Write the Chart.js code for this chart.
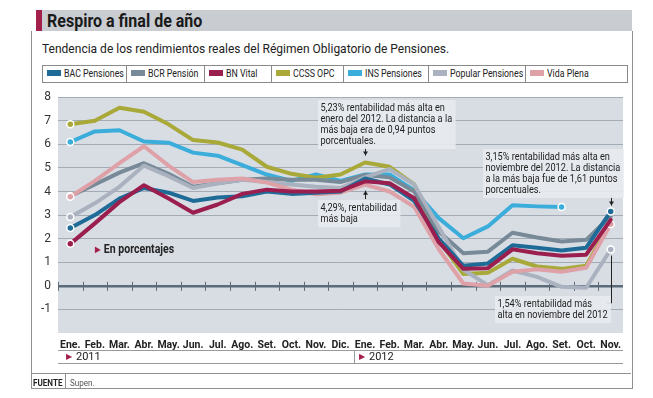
<!DOCTYPE html>
<html>
<head>
<meta charset="utf-8">
<script src="https://cdn.jsdelivr.net/npm/chart.js@4.4.0/dist/chart.umd.min.js"></script>
<style>
  body { margin: 0; width: 653px; height: 398px; background: #fff; position: relative; overflow: hidden;
         font-family: "Roboto", "Liberation Sans", sans-serif; color: #222; }
  .abs { position: absolute; white-space: nowrap; }
  #bar { left: 36px; top: 10px; width: 596px; height: 21px; background: #c9cdd2; }
  #mark { left: 36px; top: 10px; width: 6px; height: 21px; background: #a3204a; }
  #title { left: 47px; top: 10px; line-height: 21px; font-size: 18px; font-weight: bold; color: #1a1a1a; transform: scaleX(0.89); transform-origin: 0 0; }
  #box { left: 31px; top: 31px; width: 600px; height: 357px; border: 1px solid #8f8f8f; border-top: none; }
  #sub { left: 42px; top: 40px; font-size: 13.5px; color: #222; transform: scaleX(0.89); transform-origin: 0 0; }
  #legend { left: 42px; top: 65px; width: 584px; height: 16px; border: 1px solid #8a8a8a; display: flex; }
  #legend div { border-right: 1px solid #8a8a8a; font-size: 11px; line-height: 16px; padding-left: 4px; white-space: nowrap; overflow: hidden; }
  #legend div:last-child { border-right: none; }
  #legend span.sw { display: inline-block; width: 14px; height: 6px; margin-right: 3px; vertical-align: 1px; }
  #legend span.tx { display: inline-block; transform: scaleX(0.8); transform-origin: 0 50%; }
  #wrap { left: 31px; top: 83px; width: 599px; height: 273px; }
  .note { font-size: 11.5px; line-height: 11px; background: rgba(232,235,239,0.9); padding: 2px 4px 3px 3px; color: #222; transform: scaleX(0.8); transform-origin: 0 0; }
  #pct { left: 95px; top: 242px; font-size: 12px; font-weight: bold; transform: scaleX(0.88); transform-origin: 0 0; }
  .tri { color: #a3204a; font-size: 8px; margin-right: 4px; vertical-align: 1px; }
  #years { left: 58px; top: 350px; width: 565px; height: 12px; border-top: 1px solid #9a9a9a; border-bottom: 1px solid #9a9a9a; }
  .yr { font-size: 11px; line-height: 12px; top: 0px; }
  #sep { left: 296px; top: 0px; width: 1px; height: 12px; background: #9a9a9a; }
  #foot { left: 31px; top: 373px; width: 600px; border-top: 1px solid #8f8f8f; height: 15px; }
  #fuente { left: 2px; top: 3px; font-size: 9.5px; font-weight: bold; transform: scaleX(0.85); transform-origin: 0 0; }
  #fsep { left: 34px; top: 0; width: 1px; height: 15px; background: #8f8f8f; }
  #supen { left: 39px; top: 3px; font-size: 9.5px; color: #555; transform: scaleX(0.85); transform-origin: 0 0; }
</style>
</head>
<body>
<div class="abs" id="bar"></div>
<div class="abs" id="mark"></div>
<div class="abs" id="title">Respiro a final de año</div>
<div class="abs" id="box"></div>
<div class="abs" id="sub">Tendencia de los rendimientos reales del Régimen Obligatorio de Pensiones.</div>
<div class="abs" id="legend"></div>
<div class="abs" id="wrap"><canvas id="chart"></canvas></div>

<div class="abs note" style="left:318px; top:100px;">5,23% rentabilidad más alta en<br>enero del 2012. La distancia a la<br>más baja era de 0,94 puntos<br>porcentuales.</div>
<div class="abs note" style="left:318px; top:200px;">4,29%, rentabilidad<br>más baja</div>
<div class="abs note" style="left:483px; top:149px;">3,15% rentabilidad más alta en<br>noviembre del 2012. La distancia<br>a la más baja fue de 1,61 puntos<br>porcentuales.</div>
<div class="abs note" style="left:495px; top:296px;">1,54% rentabilidad más<br>alta en noviembre del 2012</div>
<div class="abs" id="pct"><span class="tri">&#9654;</span>En porcentajes</div>

<div class="abs" id="years">
  <div class="abs yr" style="left:8px;"><span class="tri">&#9654;</span>2011</div>
  <div class="abs" id="sep"></div>
  <div class="abs yr" style="left:301px;"><span class="tri">&#9654;</span>2012</div>
</div>
<div class="abs" id="foot">
  <div class="abs" id="fuente">FUENTE</div>
  <div class="abs" id="fsep"></div>
  <div class="abs" id="supen">Supen.</div>
</div>

<script>
// months from Ene. 2011 to Nov. 2012
const months = ['Ene.', 'Feb.', 'Mar.', 'Abr.', 'May.', 'Jun.', 'Jul.', 'Ago.', 'Set.', 'Oct.', 'Nov.', 'Dic.',
                'Ene.', 'Feb.', 'Mar.', 'Abr.', 'May.', 'Jun.', 'Jul.', 'Ago.', 'Set.', 'Oct.', 'Nov.'];

// rendimientos reales (%)
const bac     = [2.45, 3.0, 3.7, 4.15, 3.95, 3.6, 3.75, 3.8, 4.0, 3.9, 3.95, 4.0, 4.55, 4.3, 3.6, 2.0, 0.85, 0.95, 1.72, 1.62, 1.5, 1.62, 3.15];
const bcr     = [3.8, 4.3, 4.8, 5.2, 4.75, 4.2, 4.35, 4.5, 4.55, 4.5, 4.5, 4.4, 4.7, 4.6, 4.0, 2.3, 1.38, 1.45, 2.25, 2.05, 1.88, 1.95, 2.95];
const bnVital = [1.78, 2.65, 3.55, 4.27, 3.7, 3.1, 3.45, 3.9, 4.08, 4.0, 4.0, 4.03, 4.43, 4.35, 3.72, 1.85, 0.72, 0.75, 1.55, 1.38, 1.28, 1.32, 2.8];
const ccss    = [6.85, 7.0, 7.55, 7.38, 6.85, 6.18, 6.08, 5.78, 5.05, 4.75, 4.58, 4.72, 5.23, 5.05, 4.3, 1.95, 0.5, 0.55, 1.15, 0.82, 0.72, 0.85, 2.7];
const ins     = [6.1, 6.55, 6.6, 6.12, 6.07, 5.65, 5.52, 5.12, 4.72, 4.45, 4.72, 4.45, 4.72, 4.72, 4.05, 2.87, 2.02, 2.52, 3.42, 3.37, 3.34, null, null];
const popular = [2.92, 3.5, 4.2, 5.1, 4.65, 4.15, 4.35, 4.5, 4.4, 4.3, 4.2, 4.15, 4.6, 4.95, 4.3, 2.5, 0.68, 0.03, 0.65, 0.38, -0.04, -0.08, 1.54];
const vida    = [3.78, 4.45, 5.2, 5.92, 5.1, 4.4, 4.5, 4.55, 4.38, 4.08, 3.88, 3.95, 4.29, 4.0, 3.35, 1.55, 0.1, 0.0, 0.6, 0.7, 0.6, 0.77, 2.61];

const names  = ['BAC Pensiones', 'BCR Pensión', 'BN Vital', 'CCSS OPC', 'INS Pensiones', 'Popular Pensiones', 'Vida Plena'];
const colors = ['#1f6b98', '#788a97', '#9b1f4e', '#a9a93a', '#3aaddb', '#aab1bf', '#dea1a8'];
const series = [bac, bcr, bnVital, ccss, ins, popular, vida];
const yTicks = [-1, 0, 1, 2, 3, 4, 5, 6, 7, 8];

// legend row (html)
const legendWidths = [84, 78, 67, 72, 85, 97, 101];
const leg = document.getElementById('legend');
names.forEach(function (n, i) {
    const d = document.createElement('div');
    d.style.width = (legendWidths[i] - 5) + 'px';
    d.innerHTML = '<span class="sw" style="background:' + colors[i] + '"></span><span class="tx">' + n + '</span>';
    leg.appendChild(d);
});

// dot at first value and at last value for some series
function radii(arr, endDot) {
    let last = -1;
    arr.forEach(function (v, i) { if (v !== null) last = i; });
    return arr.map(function (v, i) { return (i === 0 || (endDot && i === last)) ? 3.5 : 0; });
}
const endDots = [true, false, false, false, true, true, true];
// drawing order: first in list ends on top
const drawOrder = [2, 0, 6, 5, 1, 3, 4];

const datasets = series.map(function (s, i) {
    return {
        label: names[i],
        data: s,
        borderColor: colors[i],
        backgroundColor: colors[i],
        borderWidth: 4,
        tension: 0,
        borderJoinStyle: 'round',
        borderCapStyle: 'round',
        pointRadius: radii(s, endDots[i]),
        pointBorderColor: '#ffffff',
        pointBorderWidth: 1.5,
        pointBackgroundColor: colors[i],
        order: drawOrder.indexOf(i),
        spanGaps: false
    };
});

const plotBg = {
    id: 'plotBg',
    beforeDraw: function (chart) {
        const a = chart.chartArea, c = chart.ctx;
        c.save();
        c.fillStyle = '#d8dde4';
        c.fillRect(a.left, a.top, a.right - a.left, a.bottom - a.top);
        c.restore();
    },
    beforeDatasetsDraw: function (chart) {
        // little month ticks on the zero line
        const x = chart.scales.x, y = chart.scales.y, c = chart.ctx;
        const y0 = y.getPixelForValue(0);
        const step = x.getPixelForValue(1) - x.getPixelForValue(0);
        c.save();
        c.strokeStyle = '#5b6b79';
        c.lineWidth = 1;
        for (let i = 0; i < months.length; i++) {
            const px = Math.round(x.getPixelForValue(i) - step / 2) + 0.5;
            c.beginPath();
            c.moveTo(px, y0 - 4);
            c.lineTo(px, y0 + 5);
            c.stroke();
        }
        c.restore();
    },
    afterDatasetsDraw: function (chart) {
        // arrows of the notes
        const x = chart.scales.x, y = chart.scales.y, c = chart.ctx;
        const off = 83; // wrap top on page
        function arrow(px, fromY, toY) {
            c.beginPath();
            c.moveTo(px, fromY);
            c.lineTo(px, toY);
            c.stroke();
            const d = toY > fromY ? -1 : 1;
            c.beginPath();
            c.moveTo(px - 2.5, toY + d * 4);
            c.lineTo(px, toY);
            c.lineTo(px + 2.5, toY + d * 4);
            c.fill();
        }
        c.save();
        c.strokeStyle = '#222';
        c.fillStyle = '#222';
        c.lineWidth = 1;
        const xe = Math.round(x.getPixelForValue(12)) + 0.5;
        const xn = Math.round(x.getPixelForValue(22)) + 0.5;
        arrow(xe, 147 - off, y.getPixelForValue(5.23) - 7);
        arrow(xe, 199 - off, y.getPixelForValue(4.29) + 6);
        arrow(xn, 195 - off, y.getPixelForValue(3.15) - 6);
        c.beginPath();
        c.moveTo(xn, y.getPixelForValue(1.54) + 6);
        c.lineTo(xn, 303 - off);
        c.lineTo(xn - 5, 303 - off);
        c.stroke();
        c.restore();
    }
};

new Chart(document.getElementById('chart'), {
    type: 'line',
    data: { labels: months, datasets: datasets },
    options: {
        responsive: true,
        maintainAspectRatio: false,
        animation: false,
        layout: { padding: { top: 8, right: 7, left: 0, bottom: 0 } },
        plugins: { legend: { display: false }, tooltip: { enabled: false } },
        scales: {
            x: {
                offset: true,
                grid: { display: false },
                border: { display: false },
                ticks: { color: '#222', font: { family: 'Roboto', size: 10.5, weight: 'bold' }, padding: -2, maxRotation: 0, autoSkip: false },
                afterFit: function (s) { s.height = 23; }
            },
            y: {
                min: -2, max: 8,
                afterBuildTicks: function (s) { s.ticks = [-2].concat(yTicks).map(function (v) { return { value: v }; }); },
                border: { display: false },
                grid: {
                    drawTicks: false,
                    color: function (ctx) {
                        if (ctx.tick.value === 0) return '#5b6b79';
                        if (ctx.tick.value === -2) return 'rgba(0,0,0,0)';
                        return '#a3abb5';
                    },
                    lineWidth: function (ctx) { return ctx.tick.value === 0 ? 2.5 : 1; }
                },
                ticks: {
                    color: '#333', font: { family: 'Roboto', size: 12 }, padding: 7,
                    callback: function (v) { return v === -2 ? '' : v; }
                },
                afterFit: function (s) { s.width = 27; }
            }
        }
    },
    plugins: [plotBg]
});
</script>
</body>
</html>
